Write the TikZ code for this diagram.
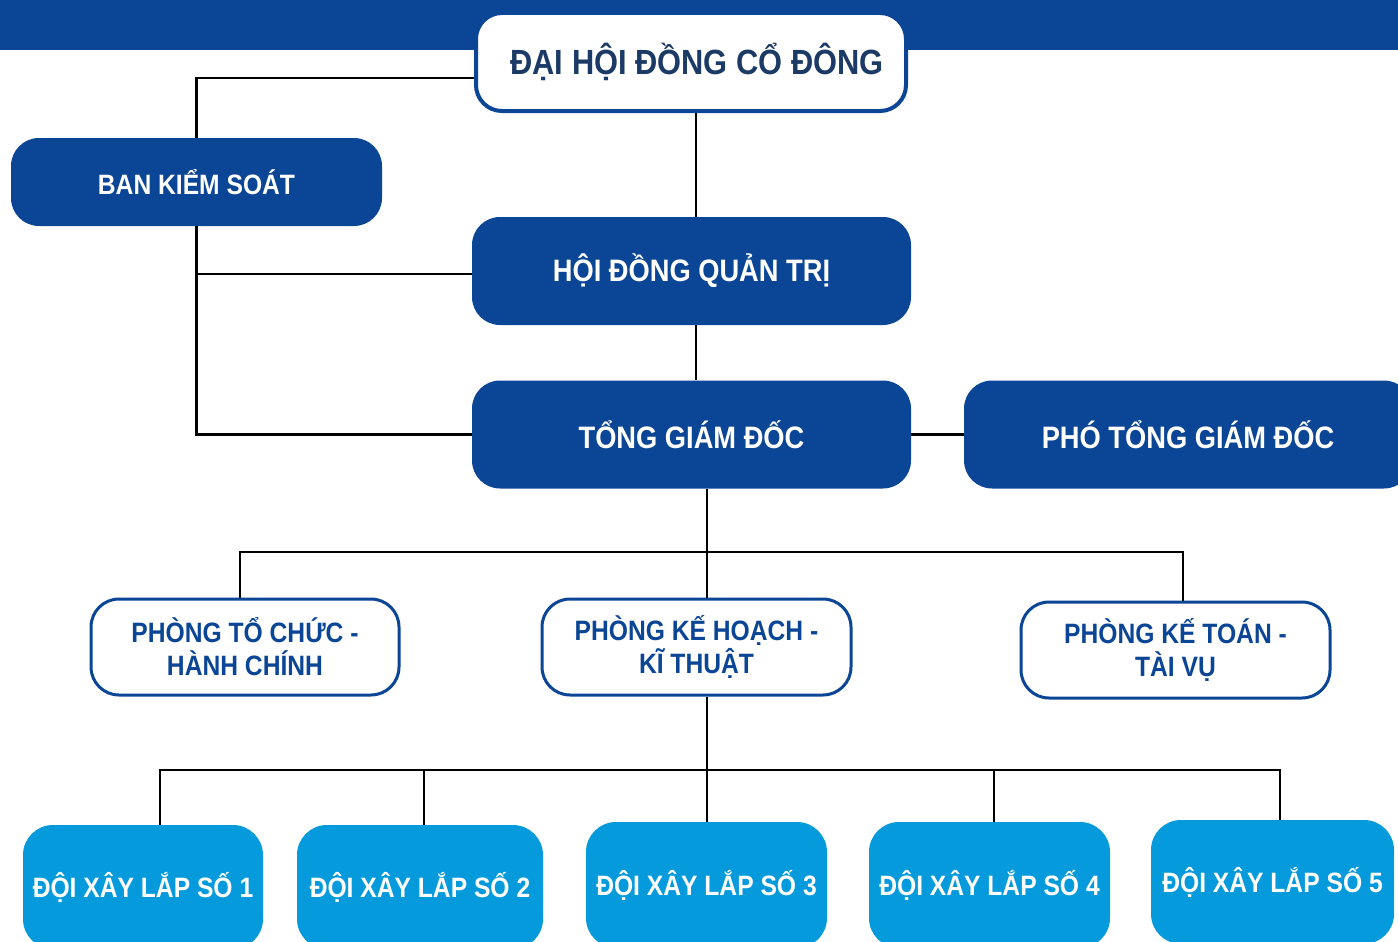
\documentclass[tikz,border=0pt]{standalone}
\usepackage{fontspec}
\setmainfont{Liberation Sans}
\usepackage{graphicx}
\definecolor{dk}{HTML}{0B4595}
\definecolor{lb}{HTML}{059ADC}
\definecolor{navy}{HTML}{1B3A66}
\newcommand\nar[1]{\scalebox{0.88}[1]{#1}}
\begin{document}
\begin{tikzpicture}[x=1pt,y=-1pt,
  dark/.style={fill=dk, rounded corners=28pt, text=white, inner sep=0pt,
    font=\bfseries\fontsize{31}{36}\selectfont},
  outline/.style={fill=white, draw=dk, line width=3pt, rounded corners=28pt, text=dk,
    inner sep=0pt, align=center, font=\bfseries\fontsize{28}{33}\selectfont},
  team/.style={fill=lb, rounded corners=30pt, text=white, inner sep=0pt,
    font=\bfseries\fontsize{28}{33}\selectfont},
  conn/.style={line width=2.5pt, black}]
\useasboundingbox (0,0) rectangle (1398,942);
\clip (0,0) rectangle (1398,942);
\fill[dk] (0,0) rectangle (1398,50);
% coordinates of connector columns
\coordinate (j0) at (696,300);
\coordinate (j1) at (707,552);
\coordinate (j2) at (707,770);
% nodes
\node[fill=white, draw=dk, line width=4pt, rounded corners=26pt, text=navy, inner sep=0pt,
  minimum width=430pt, minimum height=98pt, font=\bfseries\fontsize{35}{40}\selectfont]
  (top) at (691,62) {\hspace{12pt}\raisebox{-4pt}{\nar{ĐẠI HỘI ĐỒNG CỔ ĐÔNG}}};
\node[dark, minimum width=371pt, minimum height=88pt, font=\bfseries\fontsize{28}{33}\selectfont]
  (bks) at (196.5,182) {\nar{BAN KIỂM SOÁT}};
\node[dark, minimum width=439pt, minimum height=108pt] (hdqt) at (691.5,271) {\nar{HỘI ĐỒNG QUẢN TRỊ}};
\node[dark, minimum width=439pt, minimum height=108pt] (tgd) at (691.5,434.5) {\nar{TỔNG GIÁM ĐỐC}};
\node[dark, minimum width=448pt, minimum height=108pt] (ptgd) at (1188,434.5) {\nar{PHÓ TỔNG GIÁM ĐỐC}};
\node[outline, minimum width=308pt, minimum height=96pt] (ptc) at (245,647)
  {\nar{PHÒNG TỔ CHỨC -}\\\nar{HÀNH CHÍNH}};
\node[outline, minimum width=309pt, minimum height=96pt] (pkh) at (696.5,647)
  {\nar{PHÒNG KẾ HOẠCH -}\\\nar{KĨ THUẬT}};
\node[outline, minimum width=309pt, minimum height=96pt] (pkt) at (1175.5,650)
  {\nar{PHÒNG KẾ TOÁN -}\\\nar{TÀI VỤ}};
\node[team, minimum width=240pt, minimum height=124pt] (d1) at (143,887) {\nar{ĐỘI XÂY LẮP SỐ 1}};
\node[team, minimum width=246pt, minimum height=124pt] (d2) at (420,887) {\nar{ĐỘI XÂY LẮP SỐ 2}};
\node[team, minimum width=241pt, minimum height=126pt] (d3) at (706.5,885) {\nar{ĐỘI XÂY LẮP SỐ 3}};
\node[team, minimum width=241pt, minimum height=126pt] (d4) at (989.5,885) {\nar{ĐỘI XÂY LẮP SỐ 4}};
\node[team, minimum width=243pt, minimum height=124pt] (d5) at (1272.5,882) {\nar{ĐỘI XÂY LẮP SỐ 5}};
% connectors
\draw[conn] ([yshift=-16pt]top.west) -| (bks.north);
\draw[conn] (top.south -| j0) -- (hdqt.north -| j0);
\draw[conn] (hdqt.south -| j0) -- (tgd.north -| j0);
\draw[conn] (bks.south) |- (tgd.west);
\draw[conn] ([yshift=-3pt]hdqt.west) -- ([yshift=-3pt]hdqt.west -| bks.south);
\draw[conn] (tgd.east) -- (ptgd.west);
\draw[conn] (tgd.south -| j1) -- (pkh.north -| j1);
\draw[conn] (ptc.north -| 240,0) -- (240,552) -- (1183,552) -- (pkt.north -| 1183,0);
\draw[conn] (pkh.south -| j2) -- (d3.north -| j2);
\draw[conn] (d1.north -| 160,0) -- (160,770) -- (1280,770) -- (d5.north -| 1280,0);
\draw[conn] (d2.north -| 424,0) -- (424,770);
\draw[conn] (d4.north -| 994,0) -- (994,770);
\end{tikzpicture}
\end{document}
